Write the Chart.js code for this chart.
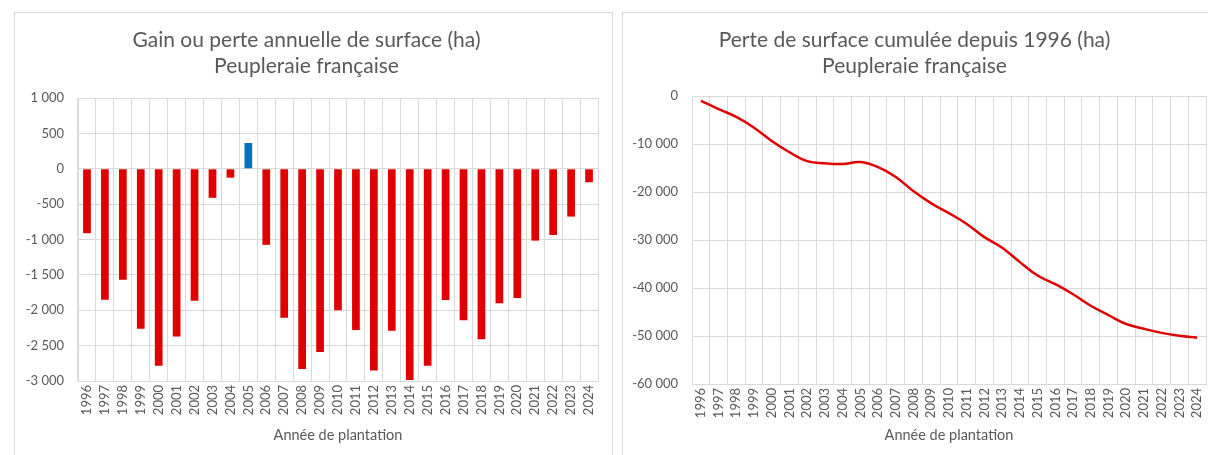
<!DOCTYPE html>
<html lang="fr">
<head>
<meta charset="utf-8">
<title>Peupleraie française</title>
<script src="https://cdn.jsdelivr.net/npm/chart.js"></script>
<style>
  html, body { margin: 0; padding: 0; background: #fff; overflow: hidden; }
  .panel { position: absolute; top: 12px; border: 1px solid #d9d9d9; background: #fff; }
  #left { left: 14px; width: 597px; height: 460px; }
  #right { left: 622px; width: 602px; height: 460px; }
</style>
</head>
<body>
<div class="panel" id="left"><canvas id="gainChart" width="597" height="460"></canvas></div>
<div class="panel" id="right"><canvas id="cumulChart" width="602" height="460"></canvas></div>
<script>
const years = ['1996','1997','1998','1999','2000','2001','2002','2003','2004','2005',
  '2006','2007','2008','2009','2010','2011','2012','2013','2014','2015',
  '2016','2017','2018','2019','2020','2021','2022','2023','2024'];

// gain ou perte annuelle (ha)
const annualChange = [-910, -1850, -1570, -2260, -2785, -2370, -1865, -410, -125, 365,
  -1075, -2105, -2830, -2590, -2000, -2280, -2850, -2290, -2985, -2785,
  -1855, -2140, -2410, -1900, -1825, -1015, -935, -675, -190];

// perte cumulée depuis 1996 (ha)
const cumulativeLoss = [-1000, -2700, -4350, -6600, -9350, -11700, -13550, -14000, -14150, -13750,
  -14800, -16850, -19850, -22350, -24400, -26650, -29400, -31600, -34600, -37400,
  -39200, -41300, -43700, -45650, -47500, -48500, -49350, -49950, -50350];

const leftTicks = { min: -3000, max: 1000, step: 500 };
const rightTicks = { min: -60000, max: 0, step: 10000 };

const textColor = '#595959';
const gridColor = '#d9d9d9';
const fontFamily = 'Lato, "Liberation Sans", sans-serif';

function frNumber(v) {
  const s = Math.abs(v).toString().replace(/\B(?=(\d{3})+(?!\d))/g, ' ');
  return (v < 0 ? '-' : '') + s;
}

function makeOptions(cfg) {
  return {
    responsive: false,
    animation: false,
    devicePixelRatio: 1,
    layout: { padding: { top: 0, left: 0, right: cfg.rightPad, bottom: cfg.bottomPad } },
    plugins: {
      legend: { display: false },
      tooltip: { enabled: false },
      title: {
        display: true,
        text: cfg.title,
        color: textColor,
        font: { family: fontFamily, size: 21, weight: 'normal', lineHeight: 1.24 },
        padding: { top: 14, bottom: cfg.titleBottom }
      }
    },
    scales: {
      x: {
        offset: true,
        grid: { color: gridColor, offset: true, drawTicks: false },
        border: { color: gridColor },
        ticks: {
          color: textColor, autoSkip: false, maxRotation: 90, minRotation: 90, padding: 4,
          font: { family: fontFamily, size: 13 }
        },
        title: {
          display: true, text: 'Année de plantation', color: textColor,
          font: { family: fontFamily, size: 14.5 }, padding: 0
        },
        afterFit(scale) { scale.height = cfg.xHeight; }
      },
      y: {
        min: cfg.ticks.min,
        max: cfg.ticks.max,
        grid: { color: gridColor, drawTicks: false },
        border: { color: gridColor },
        ticks: {
          stepSize: cfg.ticks.step, color: textColor, padding: 14,
          font: { family: fontFamily, size: 13 },
          callback: v => frNumber(v)
        },
        afterFit(scale) { scale.width = cfg.yWidth; }
      }
    }
  };
}

new Chart(document.getElementById('gainChart'), {
  type: 'bar',
  data: {
    labels: years,
    datasets: [{
      data: annualChange,
      backgroundColor: annualChange.map(v => v >= 0 ? '#0070c0' : '#e00000'),
      barPercentage: 0.43,
      categoryPercentage: 1
    }]
  },
  options: makeOptions({
    title: ['Gain ou perte annuelle de surface (ha)', 'Peupleraie française'],
    ticks: leftTicks, yWidth: 63, xHeight: 63, rightPad: 14, bottomPad: 29, titleBottom: 19
  })
});

new Chart(document.getElementById('cumulChart'), {
  type: 'line',
  data: {
    labels: years,
    datasets: [{
      data: cumulativeLoss,
      borderColor: '#e00000',
      borderWidth: 2.5,
      pointRadius: 0,
      tension: 0.4,
      fill: false
    }]
  },
  options: makeOptions({
    title: ['Perte de surface cumulée depuis 1996 (ha)', 'Peupleraie française'],
    ticks: rightTicks, yWidth: 69, xHeight: 60, rightPad: 19, bottomPad: 29, titleBottom: 17
  })
});
</script>
</body>
</html>
